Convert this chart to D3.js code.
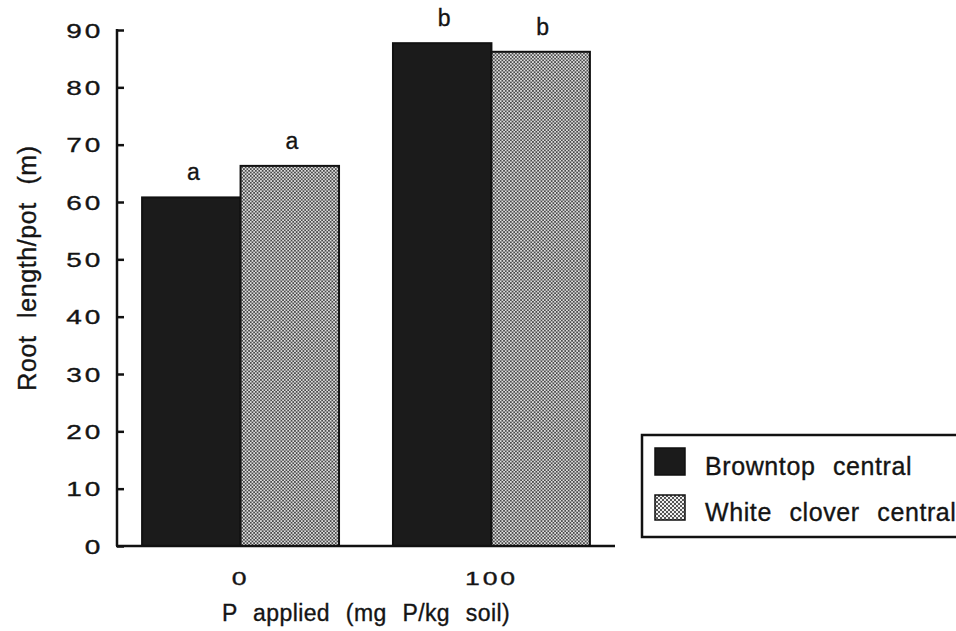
<!DOCTYPE html>
<html>
<head>
<meta charset="utf-8">
<script src="https://cdn.jsdelivr.net/npm/d3@7"></script>
<style>
  html, body { margin: 0; padding: 0; background: #fff; }
  svg { display: block; }
  text { font-family: "Liberation Sans", Arial, Helvetica, sans-serif; fill: #141414; stroke: #141414; stroke-width: 0.35px; }
</style>
</head>
<body>
<svg id="chart" width="956" height="631"></svg>
<script>
// Root length per pot by P rate and plant species
const pRates = ["0", "100"];
const seriesNames = ["Browntop central", "White clover central"];
const browntop = [60.8, 87.7];
const whiteClover = [66.3, 86.2];
const browntopLetters = ["a", "b"];
const whiteCloverLetters = ["a", "b"];
const yTicks = [0, 10, 20, 30, 40, 50, 60, 70, 80, 90];

const svg = d3.select("#chart");

// dotted fill used for the clover bars
const defs = svg.append("defs");
const pat = defs.append("pattern")
  .attr("id", "dots")
  .attr("patternUnits", "userSpaceOnUse")
  .attr("width", 3.4).attr("height", 3.4);
pat.append("rect").attr("width", 3.4).attr("height", 3.4).attr("fill", "#dedede");
pat.append("rect").attr("x", 0).attr("y", 0).attr("width", 1.7).attr("height", 1.7).attr("fill", "#4a4a4a");
pat.append("rect").attr("x", 1.7).attr("y", 1.7).attr("width", 1.7).attr("height", 1.7).attr("fill", "#4a4a4a");

// coarser version for the legend key
const patL = defs.append("pattern")
  .attr("id", "dotsKey")
  .attr("patternUnits", "userSpaceOnUse")
  .attr("width", 4).attr("height", 4);
patL.append("rect").attr("width", 4).attr("height", 4).attr("fill", "#f0f0f0");
patL.append("rect").attr("x", 0).attr("y", 0).attr("width", 2).attr("height", 2).attr("fill", "#555");
patL.append("rect").attr("x", 2).attr("y", 2).attr("width", 2).attr("height", 2).attr("fill", "#555");

const x0 = 117, x1 = 615, yBase = 546, yTop = 30;
const wide = 1.4; // horizontal stretch of the numeric labels

const x = d3.scaleBand().domain(pRates).range([x0, x1]).paddingInner(0.215).paddingOuter(0.1);
const xs = d3.scaleBand().domain(seriesNames).range([0, x.bandwidth()]);
const y = d3.scaleLinear().domain([0, 90]).range([yBase, yTop]);

const rows = [];
pRates.forEach((p, i) => {
  rows.push({ p, s: seriesNames[0], v: browntop[i], letter: browntopLetters[i] });
  rows.push({ p, s: seriesNames[1], v: whiteClover[i], letter: whiteCloverLetters[i] });
});
const fillFor = s => s === seriesNames[0] ? "#1b1b1b" : "url(#dots)";

// bars
svg.append("g").selectAll("rect").data(rows).join("rect")
  .attr("x", d => x(d.p) + xs(d.s))
  .attr("y", d => y(d.v))
  .attr("width", xs.bandwidth())
  .attr("height", d => y(0) - y(d.v))
  .attr("fill", d => fillFor(d.s))
  .attr("stroke", "#111")
  .attr("stroke-width", 2);

// significance letters
svg.append("g").selectAll("text").data(rows).join("text")
  .attr("x", d => x(d.p) + xs(d.s) + xs.bandwidth() / 2 + 2)
  .attr("y", d => y(d.v) - 17)
  .attr("text-anchor", "middle")
  .attr("font-size", 23)
  .text(d => d.letter);

// y axis with inward ticks
const yAxis = d3.axisRight(y).tickValues(yTicks).tickSize(7).tickPadding(0).tickFormat(d3.format("d"));
const gy = svg.append("g").attr("transform", `translate(${x0},0)`).call(yAxis);
gy.select(".domain").attr("stroke", "#111").attr("stroke-width", 2.5).attr("d", `M0,${yTop - 1}V${yBase}`);
gy.selectAll(".tick line").attr("stroke", "#111").attr("stroke-width", 2.5);
gy.selectAll(".tick text")
  .attr("transform", `scale(${wide},1)`)
  .attr("x", -14 / wide).attr("dy", "0.36em")
  .attr("text-anchor", "end")
  .attr("font-size", 20)
  .attr("letter-spacing", 2)
  .attr("fill", "#141414");

// x axis
const xAxis = d3.axisBottom(x).tickSize(0).tickPadding(0);
const gx = svg.append("g").attr("transform", `translate(0,${yBase})`).call(xAxis);
gx.select(".domain").attr("stroke", "#111").attr("stroke-width", 2.5).attr("d", `M${x0 - 1},0H${x1}`);
gx.selectAll(".tick text")
  .attr("transform", `scale(${wide},1)`)
  .attr("y", 39).attr("dy", 0)
  .attr("font-size", 19)
  .attr("letter-spacing", 2)
  .attr("fill", "#141414");

// axis titles
svg.append("text")
  .attr("x", 366).attr("y", 621)
  .attr("text-anchor", "middle")
  .attr("font-size", 23)
  .attr("letter-spacing", 0.4)
  .attr("word-spacing", 9)
  .text("P applied (mg P/kg soil)");

svg.append("text")
  .attr("transform", "translate(36,268) rotate(-90)")
  .attr("text-anchor", "middle")
  .attr("font-size", 25)
  .attr("letter-spacing", 0.6)
  .attr("word-spacing", 10)
  .text("Root length/pot (m)");

// legend
const lg = svg.append("g").attr("transform", "translate(642,435)");
lg.append("rect").attr("x", 0).attr("y", 0).attr("width", 330).attr("height", 102)
  .attr("fill", "#fff").attr("stroke", "#111").attr("stroke-width", 2.5);
const li = lg.selectAll("g.item").data(seriesNames).join("g")
  .attr("class", "item")
  .attr("transform", (d, i) => `translate(0,${i === 0 ? 13 : 60})`);
li.append("rect").attr("x", 13).attr("y", 0).attr("width", 30).attr("height", (d, i) => i === 0 ? 27 : 25)
  .attr("fill", d => d === seriesNames[0] ? "#1b1b1b" : "url(#dotsKey)")
  .attr("stroke", "#111").attr("stroke-width", 1.5);
li.append("text").attr("x", 63).attr("y", (d, i) => i === 0 ? 27 : 26)
  .attr("font-size", 25)
  .attr("letter-spacing", 0.6)
  .attr("word-spacing", 10)
  .text(d => d);
</script>
</body>
</html>
